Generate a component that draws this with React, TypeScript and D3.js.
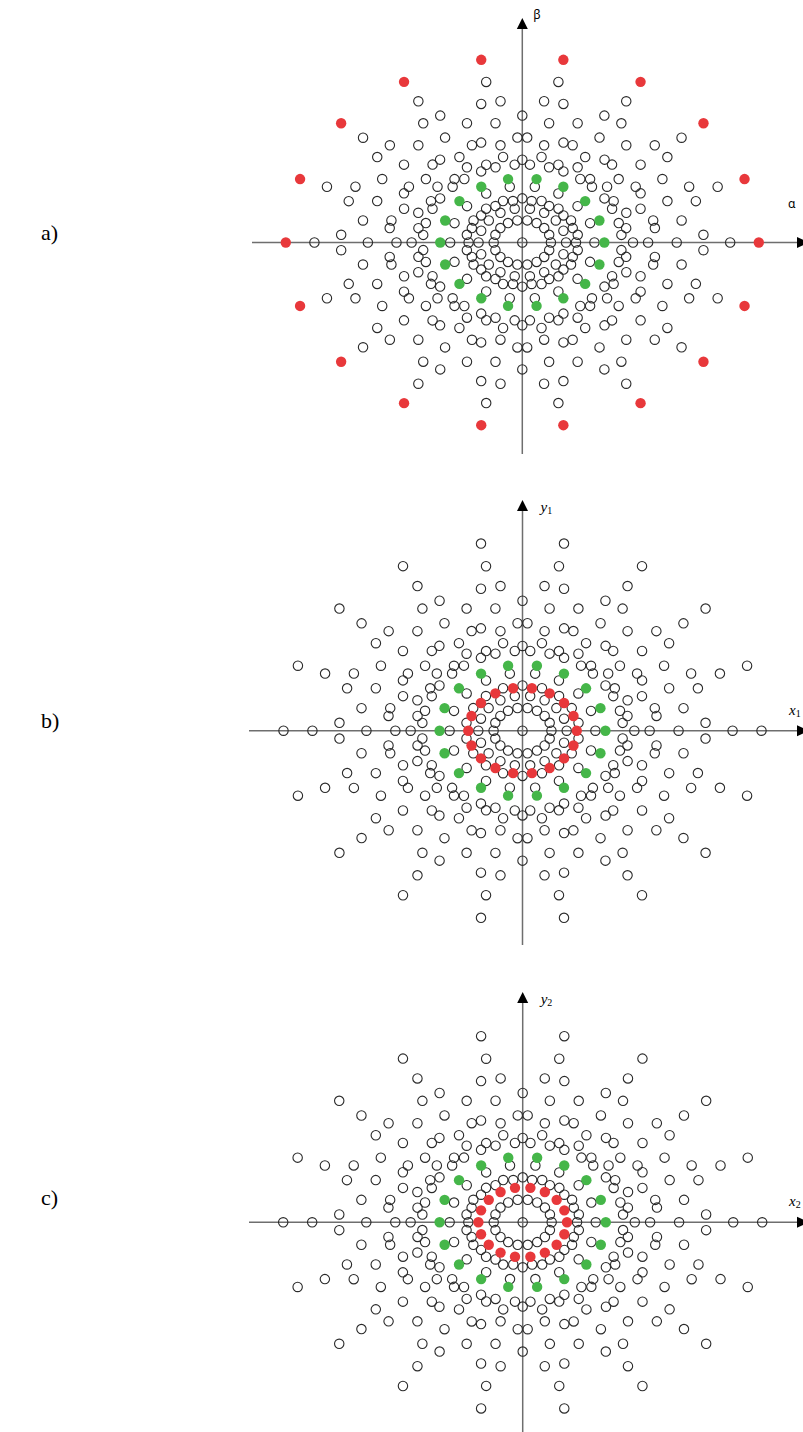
import React, { useEffect, useRef } from 'react';
import * as d3 from 'd3';

// radii (outer ring = 1) of the points lying on the 0°, 20°, 40° ... spokes
const spokeRadii = [1.0, 0.879, 0.653, 0.532, 0.468, 0.347, 0.305, 0.227, 0.185, 0.121];
// radii of the points on the 10°, 30°, 50° ... spokes
const midSpokeRadii = [0.684, 0.446, 0.238];
// points sitting off the spokes, in mirrored pairs: radius and angle (deg) from the nearest even spoke
const offSpokeRadii = [0.767, 0.566, 0.421];
const offSpokeAngles = [3.1, 7.9, 5.6];

// per panel: highlighted rings
const panelNames = ['a)', 'b)', 'c)'];
const redRings = [1.0, 0.227, 0.185];
const greenRings = [0.347, 0.347, 0.347];
const xAxisNames = ['α', 'x', 'x'];
const yAxisNames = ['β', 'y', 'y'];
const axisSubs = ['', '1', '2'];

const W = 803;
const H = 1432;

// panel layout (pixels)
const panels = [
  { cx: 522.3, cy: 242.5, rx: 236.5, ry: 185.5, top: 18, bottom: 454, left: 252, labelY: 240 },
  { cx: 522.5, cy: 730.7, rx: 239, ry: 190, top: 500, bottom: 945, left: 249, labelY: 728 },
  { cx: 522.7, cy: 1222.3, rx: 239.5, ry: 189, top: 992, bottom: 1440, left: 249, labelY: 1205 },
];

function buildPoints() {
  const pts: { r: number; a: number }[] = [{ r: 0, a: 0 }];
  for (let k = 0; k < 18; k++) {
    const base = k * 20;
    spokeRadii.forEach(r => pts.push({ r, a: base }));
    midSpokeRadii.forEach(r => pts.push({ r, a: base + 10 }));
    offSpokeRadii.forEach((r, i) => {
      pts.push({ r, a: base + offSpokeAngles[i] });
      pts.push({ r, a: base - offSpokeAngles[i] });
    });
  }
  return pts;
}

function drawPanel(svg: any, p: any, idx: number) {
  const x = d3.scaleLinear().domain([-1, 1]).range([p.cx - p.rx, p.cx + p.rx]);
  const y = d3.scaleLinear().domain([-1, 1]).range([p.cy + p.ry, p.cy - p.ry]);
  const g = svg.append('g');

  // axes
  g.append('line')
    .attr('x1', p.left).attr('y1', p.cy).attr('x2', 798).attr('y2', p.cy)
    .attr('stroke', '#6e6e6e').attr('stroke-width', 1.5);
  g.append('line')
    .attr('x1', p.cx).attr('y1', p.bottom).attr('x2', p.cx).attr('y2', p.top + 10)
    .attr('stroke', '#6e6e6e').attr('stroke-width', 1.5);
  g.append('path')
    .attr('d', `M${p.cx},${p.top} L${p.cx - 5.5},${p.top + 11} L${p.cx + 5.5},${p.top + 11} Z`)
    .attr('fill', '#000');
  g.append('path')
    .attr('d', `M809,${p.cy} L797,${p.cy - 5.5} L797,${p.cy + 5.5} Z`)
    .attr('fill', '#000');

  const red = redRings[idx];
  const green = greenRings[idx];
  const isRing = (d: any, ring: number) => Math.abs(d.r - ring) < 1e-6 && d.a % 20 === 0;
  const pts = buildPoints();
  const rad = (a: number) => (a * Math.PI) / 180;

  g.selectAll('.hollow')
    .data(pts.filter(d => !isRing(d, red) && !isRing(d, green)))
    .enter()
    .append('circle')
    .attr('cx', (d: any) => x(d.r * Math.cos(rad(d.a))))
    .attr('cy', (d: any) => y(d.r * Math.sin(rad(d.a))))
    .attr('r', 4.7)
    .attr('fill', 'none')
    .attr('stroke', '#2a2a2a')
    .attr('stroke-width', 1.1);

  const colored = [
    ...pts.filter(d => isRing(d, green)).map(d => ({ ...d, c: '#45b649' })),
    ...pts.filter(d => isRing(d, red)).map(d => ({ ...d, c: '#e8383b' })),
  ];
  g.selectAll('.dot')
    .data(colored)
    .enter()
    .append('circle')
    .attr('cx', (d: any) => x(d.r * Math.cos(rad(d.a))))
    .attr('cy', (d: any) => y(d.r * Math.sin(rad(d.a))))
    .attr('r', 5.2)
    .attr('fill', (d: any) => d.c);

  // axis names
  if (idx === 0) {
    g.append('text').attr('x', p.cx + 11).attr('y', p.top + 1)
      .attr('font-family', 'Noto Sans, DejaVu Sans, sans-serif').attr('font-size', 12)
      .text(yAxisNames[idx]);
    g.append('text').attr('x', 788).attr('y', p.cy - 35)
      .attr('font-family', 'Noto Sans, DejaVu Sans, sans-serif').attr('font-size', 12)
      .text(xAxisNames[idx]);
  } else {
    const yl = g.append('text').attr('x', p.cx + 18).attr('y', p.top + 12)
      .attr('font-family', 'Liberation Serif, serif').attr('font-size', 15);
    yl.append('tspan').attr('font-style', 'italic').text(yAxisNames[idx]);
    yl.append('tspan').attr('font-size', 10).attr('dy', 2).text(axisSubs[idx]);
    const xl = g.append('text').attr('x', 789).attr('y', p.cy - 16)
      .attr('font-family', 'Liberation Serif, serif').attr('font-size', 15);
    xl.append('tspan').attr('font-style', 'italic').text(xAxisNames[idx]);
    xl.append('tspan').attr('font-size', 10).attr('dy', 2).text(axisSubs[idx]);
  }

  // panel letter
  g.append('text').attr('x', 41).attr('y', p.labelY)
    .attr('font-family', 'Liberation Serif, Times New Roman, serif').attr('font-size', 22)
    .text(panelNames[idx]);
}

export default function App() {
  const box = useRef<SVGSVGElement>(null);

  useEffect(() => {
    const svg = d3.select(box.current);
    svg.selectAll('*').remove();
    svg.append('rect').attr('width', W).attr('height', H).attr('fill', '#fff');
    panels.forEach((p, i) => drawPanel(svg, p, i));
  }, []);

  return (
    <div style={{ position: 'absolute', left: 0, top: 0 }}>
      <svg ref={box} width={W} height={H} style={{ display: 'block' }} />
    </div>
  );
}
